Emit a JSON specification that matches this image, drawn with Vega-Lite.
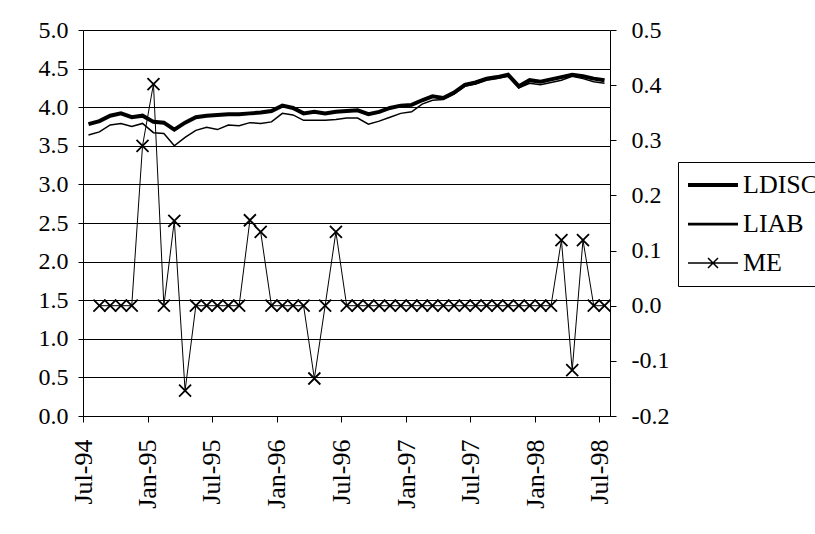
{
  "$schema": "https://vega.github.io/schema/vega-lite/v6.json",
  "width": 527,
  "height": 386,
  "autosize": {"type": "none"},
  "padding": {"left": 83, "top": 30, "right": 205, "bottom": 118},
  "background": "white",
  "config": {
    "font": "Liberation Serif",
    "view": {"stroke": null},
    "axis": {
      "labelFont": "Liberation Serif",
      "labelFontSize": 24,
      "labelColor": "black",
      "domainColor": "black",
      "tickColor": "black",
      "gridColor": "black",
      "gridOpacity": 1,
      "domainWidth": 1,
      "tickWidth": 1,
      "gridWidth": 1,
      "labelOverlap": false
    }
  },
  "data": {
    "format": {"parse": {"date": "date:'%Y-%m'"}},
    "values": [
      {"date": "1994-07", "LDISC": 3.78, "LIAB": 3.64, "ME": null},
      {"date": "1994-08", "LDISC": 3.82, "LIAB": 3.68, "ME": 0},
      {"date": "1994-09", "LDISC": 3.89, "LIAB": 3.77, "ME": 0},
      {"date": "1994-10", "LDISC": 3.92, "LIAB": 3.79, "ME": 0},
      {"date": "1994-11", "LDISC": 3.87, "LIAB": 3.75, "ME": 0},
      {"date": "1994-12", "LDISC": 3.89, "LIAB": 3.79, "ME": 0.29},
      {"date": "1995-01", "LDISC": 3.81, "LIAB": 3.67, "ME": 0.402},
      {"date": "1995-02", "LDISC": 3.80, "LIAB": 3.66, "ME": 0},
      {"date": "1995-03", "LDISC": 3.71, "LIAB": 3.50, "ME": 0.154},
      {"date": "1995-04", "LDISC": 3.80, "LIAB": 3.61, "ME": -0.154},
      {"date": "1995-05", "LDISC": 3.87, "LIAB": 3.70, "ME": 0},
      {"date": "1995-06", "LDISC": 3.89, "LIAB": 3.74, "ME": 0},
      {"date": "1995-07", "LDISC": 3.90, "LIAB": 3.71, "ME": 0},
      {"date": "1995-08", "LDISC": 3.91, "LIAB": 3.77, "ME": 0},
      {"date": "1995-09", "LDISC": 3.91, "LIAB": 3.76, "ME": 0},
      {"date": "1995-10", "LDISC": 3.92, "LIAB": 3.80, "ME": 0.155},
      {"date": "1995-11", "LDISC": 3.93, "LIAB": 3.79, "ME": 0.134},
      {"date": "1995-12", "LDISC": 3.95, "LIAB": 3.81, "ME": 0},
      {"date": "1996-01", "LDISC": 4.02, "LIAB": 3.92, "ME": 0},
      {"date": "1996-02", "LDISC": 3.99, "LIAB": 3.90, "ME": 0},
      {"date": "1996-03", "LDISC": 3.92, "LIAB": 3.83, "ME": 0},
      {"date": "1996-04", "LDISC": 3.94, "LIAB": 3.83, "ME": -0.132},
      {"date": "1996-05", "LDISC": 3.92, "LIAB": 3.83, "ME": 0},
      {"date": "1996-06", "LDISC": 3.94, "LIAB": 3.84, "ME": 0.134},
      {"date": "1996-07", "LDISC": 3.95, "LIAB": 3.86, "ME": 0},
      {"date": "1996-08", "LDISC": 3.96, "LIAB": 3.86, "ME": 0},
      {"date": "1996-09", "LDISC": 3.91, "LIAB": 3.78, "ME": 0},
      {"date": "1996-10", "LDISC": 3.94, "LIAB": 3.82, "ME": 0},
      {"date": "1996-11", "LDISC": 3.99, "LIAB": 3.87, "ME": 0},
      {"date": "1996-12", "LDISC": 4.02, "LIAB": 3.92, "ME": 0},
      {"date": "1997-01", "LDISC": 4.03, "LIAB": 3.94, "ME": 0},
      {"date": "1997-02", "LDISC": 4.09, "LIAB": 4.04, "ME": 0},
      {"date": "1997-03", "LDISC": 4.14, "LIAB": 4.09, "ME": 0},
      {"date": "1997-04", "LDISC": 4.12, "LIAB": 4.10, "ME": 0},
      {"date": "1997-05", "LDISC": 4.19, "LIAB": 4.17, "ME": 0},
      {"date": "1997-06", "LDISC": 4.29, "LIAB": 4.27, "ME": 0},
      {"date": "1997-07", "LDISC": 4.32, "LIAB": 4.30, "ME": 0},
      {"date": "1997-08", "LDISC": 4.37, "LIAB": 4.35, "ME": 0},
      {"date": "1997-09", "LDISC": 4.39, "LIAB": 4.37, "ME": 0},
      {"date": "1997-10", "LDISC": 4.42, "LIAB": 4.40, "ME": 0},
      {"date": "1997-11", "LDISC": 4.27, "LIAB": 4.25, "ME": 0},
      {"date": "1997-12", "LDISC": 4.35, "LIAB": 4.31, "ME": 0},
      {"date": "1998-01", "LDISC": 4.33, "LIAB": 4.29, "ME": 0},
      {"date": "1998-02", "LDISC": 4.36, "LIAB": 4.32, "ME": 0},
      {"date": "1998-03", "LDISC": 4.39, "LIAB": 4.35, "ME": 0.119},
      {"date": "1998-04", "LDISC": 4.42, "LIAB": 4.40, "ME": -0.117},
      {"date": "1998-05", "LDISC": 4.40, "LIAB": 4.37, "ME": 0.119},
      {"date": "1998-06", "LDISC": 4.37, "LIAB": 4.33, "ME": 0},
      {"date": "1998-07", "LDISC": 4.35, "LIAB": 4.31, "ME": 0}
    ]
  },
  "layer": [
    {
      "layer": [
        {
          "mark": {"type": "line", "color": "black", "strokeWidth": 4},
          "encoding": {
            "x": {"field": "date", "type": "temporal", "timeUnit": "yearmonth", "bandPosition": 0.5,
              "scale": {"domain": [{"year": 1994, "month": 7, "date": 1}, {"year": 1998, "month": 8, "date": 1}]},
              "axis": {"values": [
                {"year": 1994, "month": 7, "date": 1}, {"year": 1995, "month": 1, "date": 1},
                {"year": 1995, "month": 7, "date": 1}, {"year": 1996, "month": 1, "date": 1},
                {"year": 1996, "month": 7, "date": 1}, {"year": 1997, "month": 1, "date": 1},
                {"year": 1997, "month": 7, "date": 1}, {"year": 1998, "month": 1, "date": 1},
                {"year": 1998, "month": 7, "date": 1}],
                "format": "%b-%y", "labelAngle": -90, "grid": false, "tickSize": 6, "labelPadding": 17,
                "labelFontSize": 26, "title": null, "labelFlush": false, "labelOverlap": false}},
            "y": {"field": "LDISC", "type": "quantitative",
              "scale": {"domain": [0, 5], "nice": false, "zero": false},
              "axis": {"values": [0, 0.5, 1, 1.5, 2, 2.5, 3, 3.5, 4, 4.5, 5], "format": ".1f", "grid": true,
                "tickSize": 5, "labelPadding": 10, "title": null, "orient": "left", "labelOverlap": false}}
          }
        },
        {
          "mark": {"type": "line", "color": "black", "strokeWidth": 1.5},
          "encoding": {
            "x": {"field": "date", "type": "temporal", "timeUnit": "yearmonth", "bandPosition": 0.5},
            "y": {"field": "LIAB", "type": "quantitative",
              "axis": {"values": [0, 0.5, 1, 1.5, 2, 2.5, 3, 3.5, 4, 4.5, 5], "format": ".1f", "grid": true,
                "tickSize": 5, "labelPadding": 10, "title": null, "orient": "left", "labelOverlap": false}}
          }
        },
        {
          "transform": [{"fold": ["LDISC", "LIAB", "ME"], "as": ["series", "value"]}],
          "mark": {"type": "point", "filled": false, "opacity": 0, "color": "black"},
          "encoding": {
            "x": {"field": "date", "type": "temporal", "timeUnit": "yearmonth", "bandPosition": 0.5},
            "shape": {"field": "series", "type": "nominal",
              "scale": {"domain": ["LDISC", "LIAB", "ME"],
                "range": ["M-2.5,0L2.5,0", "M-2.5,0L2.5,0", "M-2.5,0L2.5,0M-0.5,-0.5L0.5,0.5M-0.5,0.5L0.5,-0.5"]},
              "legend": {"orient": "none", "legendX": 595, "legendY": 132, "title": null,
                "strokeColor": "black", "padding": 10, "labelFont": "Liberation Serif", "labelFontSize": 26,
                "labelColor": "black", "symbolSize": 400, "symbolStrokeColor": "black",
                "symbolFillColor": "transparent", "symbolOpacity": 1, "symbolOffset": 12,
                "labelOffset": 17, "rowPadding": 13}},
            "strokeWidth": {"field": "series", "type": "nominal",
              "scale": {"domain": ["LDISC", "LIAB", "ME"], "range": [4, 1.5, 1.2]},
              "legend": {"orient": "none", "legendX": 595, "legendY": 132, "title": null,
                "strokeColor": "black", "padding": 10, "labelFont": "Liberation Serif", "labelFontSize": 26,
                "labelColor": "black", "symbolSize": 400, "symbolStrokeColor": "black",
                "symbolFillColor": "transparent", "symbolOpacity": 1, "symbolOffset": 12,
                "labelOffset": 17, "rowPadding": 13}}
          }
        }
      ]
    },
    {
      "layer": [
        {
          "mark": {"type": "line", "color": "black", "strokeWidth": 1},
          "encoding": {
            "x": {"field": "date", "type": "temporal", "timeUnit": "yearmonth", "bandPosition": 0.5},
            "y": {"field": "ME", "type": "quantitative",
              "scale": {"domain": [-0.2, 0.5], "nice": false, "zero": false},
              "axis": {"orient": "right", "values": [-0.2, -0.1, 0, 0.1, 0.2, 0.3, 0.4, 0.5],
                "labelExpr": "datum.value < 0 ? '-' + format(-datum.value, '.1f') : format(datum.value, '.1f')",
                "grid": false, "tickSize": 6, "labelPadding": 15, "title": null, "labelOverlap": false}}
          }
        },
        {
          "mark": {"type": "point", "shape": "M-1,-1L1,1M-1,1L1,-1", "size": 144, "filled": false,
            "color": "black", "strokeWidth": 1.8, "opacity": 1},
          "encoding": {
            "x": {"field": "date", "type": "temporal", "timeUnit": "yearmonth", "bandPosition": 0.5},
            "y": {"field": "ME", "type": "quantitative"}
          }
        }
      ]
    }
  ],
  "resolve": {"scale": {"y": "independent"}}
}
